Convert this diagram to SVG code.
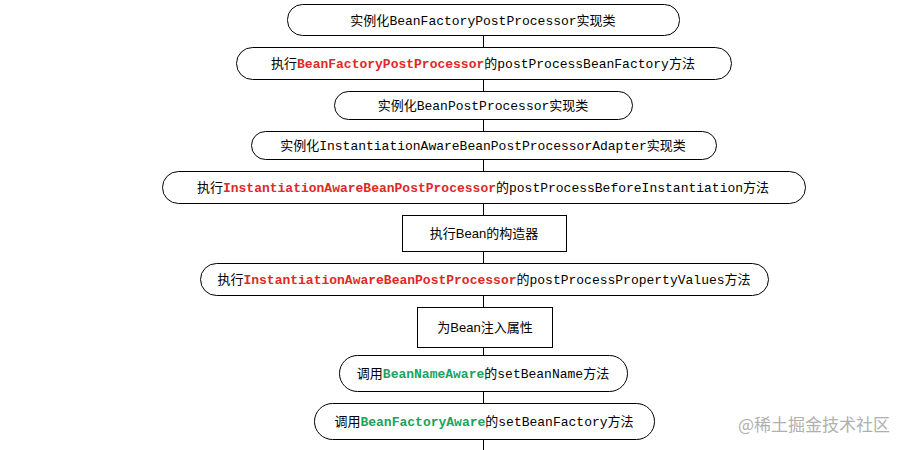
<svg xmlns="http://www.w3.org/2000/svg" width="914" height="450" viewBox="0 0 914 450">
<style>
.n{fill:#fff;stroke:#000;stroke-width:1}
.t{font-family:"Liberation Mono","Noto Sans CJK SC",monospace;font-size:13px;text-anchor:middle;fill:#000}
.s{font-family:"Liberation Sans","Noto Sans CJK SC",sans-serif;font-size:13px;text-anchor:middle;fill:#000}
.r{fill:#e02828;font-weight:bold}
.g{fill:#1aa260;font-weight:bold}
.c{font-family:"Noto Sans CJK SC",sans-serif}
</style>
<rect width="914" height="450" fill="#fff"/>
<g id="connectors" stroke="#000" stroke-width="1">
<line x1="483.5" y1="36" x2="483.5" y2="450"/>
</g>
<g id="n1"><rect class="n" x="287.5" y="4.5" width="392" height="31" rx="15"/><text class="t" x="483" y="25"><tspan class="c">实例化</tspan>BeanFactoryPostProcessor<tspan class="c">实现类</tspan></text></g>
<g id="n2"><rect class="n" x="236.5" y="47.5" width="495" height="32" rx="16"/><text class="t" x="483" y="68"><tspan class="c">执行</tspan><tspan class="r">BeanFactoryPostProcessor</tspan><tspan class="c">的</tspan>postProcessBeanFactory<tspan class="c">方法</tspan></text></g>
<g id="n3"><rect class="n" x="334.5" y="91.5" width="298" height="28" rx="14"/><text class="t" x="483" y="110"><tspan class="c">实例化</tspan>BeanPostProcessor<tspan class="c">实现类</tspan></text></g>
<g id="n4"><rect class="n" x="251.5" y="131.5" width="465" height="28" rx="14"/><text class="t" x="483" y="150"><tspan class="c">实例化</tspan>InstantiationAwareBeanPostProcessorAdapter<tspan class="c">实现类</tspan></text></g>
<g id="n5"><rect class="n" x="162.5" y="171.5" width="643" height="32" rx="16"/><text class="t" x="483" y="192"><tspan class="c">执行</tspan><tspan class="r">InstantiationAwareBeanPostProcessor</tspan><tspan class="c">的</tspan>postProcessBeforeInstantiation<tspan class="c">方法</tspan></text></g>
<g id="n6"><rect class="n" x="402.5" y="215.5" width="164" height="36"/><text class="s" x="484" y="238">执行Bean的构造器</text></g>
<g id="n7"><rect class="n" x="200.5" y="263.5" width="568" height="32" rx="16"/><text class="t" x="484" y="284"><tspan class="c">执行</tspan><tspan class="r">InstantiationAwareBeanPostProcessor</tspan><tspan class="c">的</tspan>postProcessPropertyValues<tspan class="c">方法</tspan></text></g>
<g id="n8"><rect class="n" x="417.5" y="307.5" width="135" height="40"/><text class="s" x="485" y="332">为Bean注入属性</text></g>
<g id="n9"><rect class="n" x="339.5" y="355.5" width="288" height="36" rx="18"/><text class="t" x="483" y="378"><tspan class="c">调用</tspan><tspan class="g">BeanNameAware</tspan><tspan class="c">的</tspan>setBeanName<tspan class="c">方法</tspan></text></g>
<g id="n10"><rect class="n" x="314.5" y="403.5" width="340" height="36" rx="18"/><text class="t" x="484" y="426"><tspan class="c">调用</tspan><tspan class="g">BeanFactoryAware</tspan><tspan class="c">的</tspan>setBeanFactory<tspan class="c">方法</tspan></text></g>
<text x="738" y="431" font-family="Noto Sans CJK SC,sans-serif" font-size="17" fill="#b0b0b0">@稀土掘金技术社区</text>
</svg>
